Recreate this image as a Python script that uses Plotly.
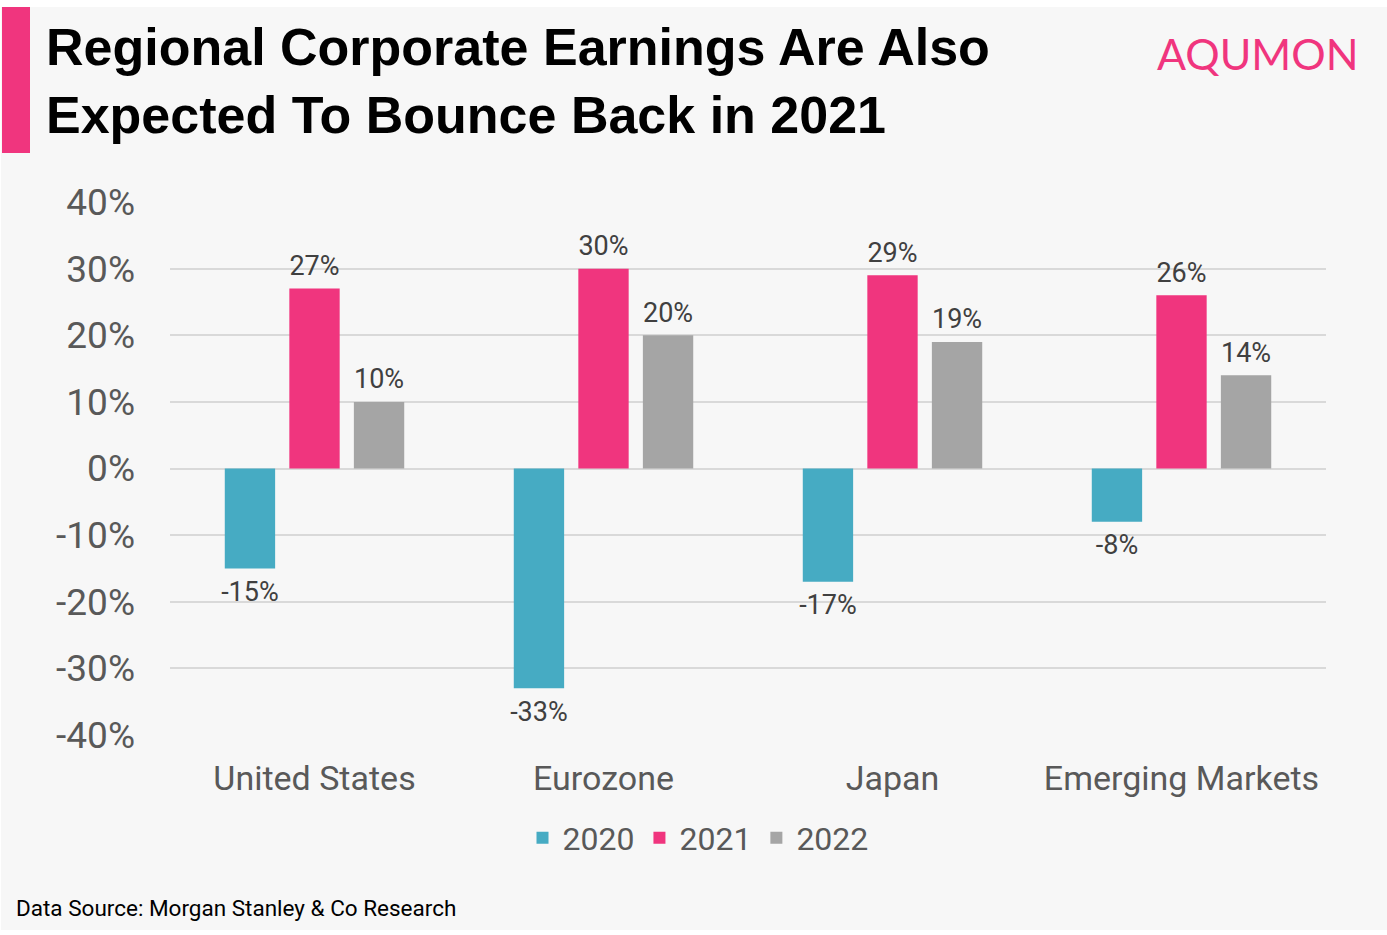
import plotly.graph_objects as go

categories = ["United States", "Eurozone", "Japan", "Emerging Markets"]
series_names = ["2020", "2021", "2022"]
values_2020 = [-15, -33, -17, -8]
values_2021 = [27, 30, 29, 26]
values_2022 = [10, 20, 19, 14]
tick_vals = [-40, -30, -20, -10, 0, 10, 20, 30, 40]
tick_text = [f"{v}%" for v in tick_vals]
colors = ["#46ABC3", "#F0357E", "#A5A5A5"]

W, H = 1387, 935
L, R, T, B = 170, 61, 202, 200
pw, ph = W - L - R, H - T - B

def px(x):
    return (x - L) / pw

def py(y):
    return (H - B - y) / ph

FONT = "Roboto, Noto Sans, sans-serif"
NB = "\u00a0"

def label(v):
    # non-breaking spaces set as sub/superscript add a little padding between label and bar end
    if v >= 0:
        return f"<sub>{NB}</sub>{v}%<sub>{NB}</sub>"
    return f"<sup>{NB}</sup>{v}%<sup>{NB}</sup>"

fig = go.Figure()
for name, vals, col in zip(series_names, [values_2020, values_2021, values_2022], colors):
    fig.add_trace(go.Bar(
        x=categories, y=vals, name=name, marker_color=col,
        marker_line_width=0,
        text=[label(v) for v in vals], textposition="outside",
        constraintext="none",
        textfont=dict(size=27, color="#404040", family=FONT),
        cliponaxis=False,
    ))

fig.update_layout(
    width=W, height=H,
    margin=dict(l=L, r=R, t=T, b=B, autoexpand=False),
    paper_bgcolor="#ffffff",
    plot_bgcolor="rgba(0,0,0,0)",
    barmode="group",
    bargap=0.33,
    bargroupgap=0.22,
    font=dict(family=FONT, color="#595959"),
    showlegend=True,
    legend=dict(orientation="h", x=px(698), xanchor="center", y=py(838), yanchor="middle",
                font=dict(size=32, color="#595959", family=FONT), bgcolor="rgba(0,0,0,0)",
                itemwidth=30, traceorder="normal"),
    yaxis=dict(range=[-40, 40], tickvals=tick_vals, ticktext=tick_text,
               tickfont=dict(size=37, color="#595959"), showgrid=True,
               gridcolor="#d9d9d9", gridwidth=2, zeroline=True, zerolinecolor="#d9d9d9",
               zerolinewidth=2, ticks="", ticklabelstandoff=34, showline=False),
    xaxis=dict(tickfont=dict(size=34, color="#595959"), showline=False, ticks="",
               showgrid=False, ticklabelstandoff=20),
    shapes=[
        dict(type="rect", xref="paper", yref="paper", x0=px(1), x1=px(1387), y0=py(930), y1=py(7),
             fillcolor="#f7f7f7", line_width=0, layer="below"),
        dict(type="rect", xref="paper", yref="paper", x0=px(2), x1=px(30), y0=py(153), y1=py(7),
             fillcolor="#F0357E", line_width=0, layer="below"),
    ],
    annotations=[
        dict(text="<b>Regional Corporate Earnings Are Also<br>Expected To Bounce Back in 2021</b>",
             xref="paper", yref="paper", x=px(44), y=py(81), xanchor="left", yanchor="middle",
             align="left", showarrow=False,
             font=dict(size=52, color="#000000", family="Liberation Sans, Arial, sans-serif")),
        dict(text="AQUMON", xref="paper", yref="paper", x=px(1361), y=py(53), xanchor="right",
             yanchor="middle", showarrow=False,
             font=dict(size=43, color="#F0357E", family="Lato, Roboto, sans-serif")),
        dict(text="Data Source: Morgan Stanley & Co Research", xref="paper", yref="paper",
             x=px(14), y=py(908), xanchor="left", yanchor="middle", showarrow=False,
             font=dict(size=22.5, color="#000000", family=FONT)),
    ],
)

fig.write_html("out.html", config={"displayModeBar": False},
               post_script="document.body.style.margin='0px';")
